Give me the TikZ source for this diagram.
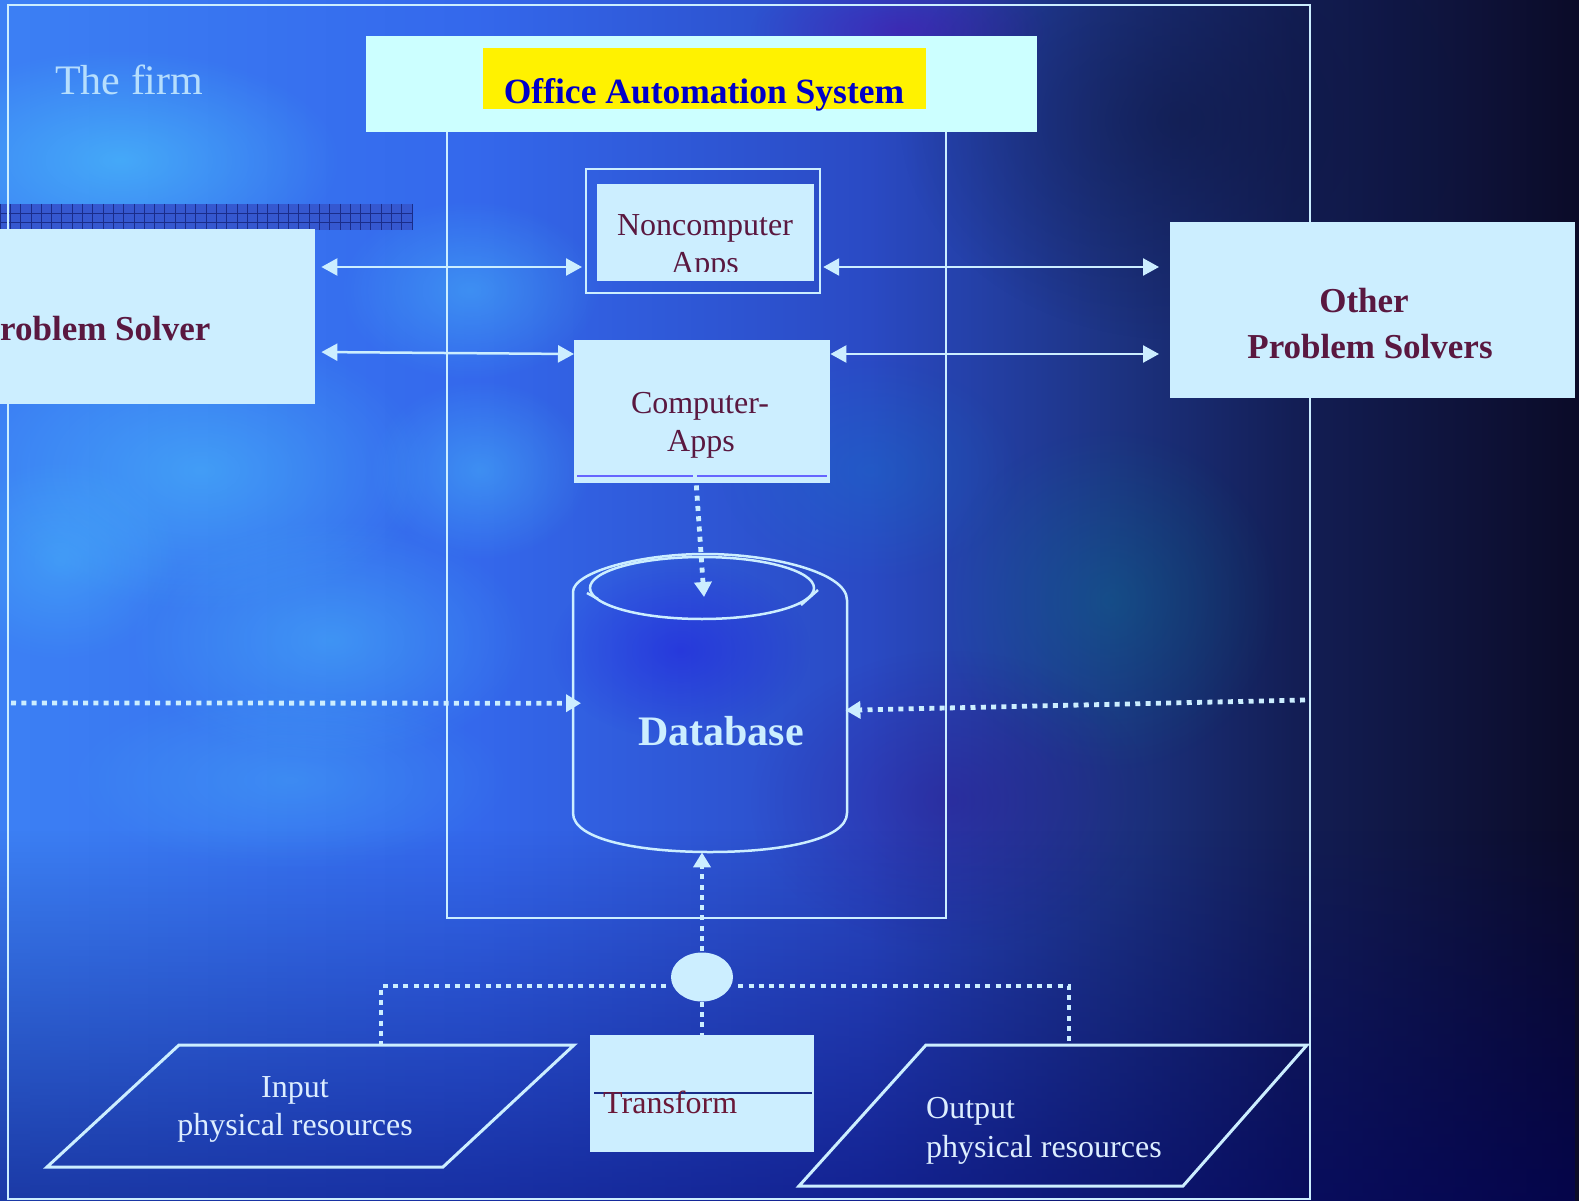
\documentclass[tikz,border=0pt]{standalone}
\usepackage{fontspec}
\setmainfont{Liberation Serif}
\usetikzlibrary{arrows.meta,fadings,calc,shapes.geometric}

\definecolor{lboxc}{HTML}{CCEEFF}
\definecolor{oasfill}{HTML}{CCFFFF}
\definecolor{maroonc}{HTML}{5A1840}
\definecolor{transc}{HTML}{6A1838}
\definecolor{oasblue}{HTML}{0000C8}
\definecolor{lineclr}{HTML}{CCEEFF}
\definecolor{whitetxt}{HTML}{DDEEFF}
\definecolor{c0}{HTML}{3C80F4}
\definecolor{c1}{HTML}{3468EC}
\definecolor{c2}{HTML}{2A4AC4}
\definecolor{c3}{HTML}{1D3484}
\definecolor{c4}{HTML}{131E55}
\definecolor{c5}{HTML}{0B0B28}
\definecolor{checkfill}{HTML}{3558D0}
\definecolor{checkline}{HTML}{1A2D8A}
\definecolor{cyanblob}{HTML}{50D8FF}
\definecolor{navyblob}{HTML}{0E1640}

\pgfdeclarehorizontalshading{bgshade}{100bp}{color(0bp)=(c0); color(25bp)=(c0); color(40bp)=(c1); color(52.5bp)=(c2); color(60bp)=(c3); color(66bp)=(c4); color(75bp)=(c5); color(100bp)=(c5)}
\tikzfading[name=blobfade, inner color=transparent!0, outer color=transparent!100]
\tikzfading[name=fadedown, top color=transparent!100, bottom color=transparent!0]

\newcommand\bgblob[6]{\fill[color=#5, opacity=#6, path fading=blobfade] (#1,#2) ellipse ({#3} and {#4});}

\tikzset{
  lightbox/.style={fill=lboxc, draw=none, inner sep=0pt, anchor=north west},
  conn/.style={draw=lineclr, line width=2.5pt},
  biarrow/.style={conn, {Triangle[length=16pt,width=17pt]}-{Triangle[length=16pt,width=17pt]}},
  dotline/.style={draw=lineclr, line width=4.8pt, dash pattern=on 5pt off 5.3pt},
  dotarrow/.style={dotline, -{Triangle[length=15pt,width=17pt]}},
  regtxt/.style={font=\fontsize{32}{37}\selectfont, inner sep=0pt},
  boldtxt/.style={font=\fontsize{35}{40}\selectfont\bfseries, inner sep=0pt},
}

\begin{document}
\begin{tikzpicture}[x=1pt,y=-1pt]
\useasboundingbox (0,0) rectangle (1579,1201);
\clip (0,0) rectangle (1579,1201);

% background
\shade[shading=bgshade] (0,0) rectangle (1579,1201);
\bgblob{120}{160}{220}{110}{cyanblob}{0.50}
\bgblob{200}{470}{230}{140}{cyanblob}{0.40}
\bgblob{330}{640}{200}{120}{cyanblob}{0.35}
\bgblob{470}{290}{130}{90}{cyanblob}{0.35}
\bgblob{480}{470}{110}{90}{cyanblob}{0.35}
\bgblob{60}{560}{120}{100}{cyanblob}{0.30}
\bgblob{290}{780}{220}{90}{cyanblob}{0.25}
\bgblob{870}{470}{150}{110}{cyan!60!blue}{0.30}
\bgblob{1110}{600}{170}{170}{teal!80!cyan}{0.25}
\bgblob{1180}{120}{280}{220}{navyblob}{0.55}
\bgblob{900}{30}{150}{60}{violet!70!blue}{0.40}
\bgblob{680}{650}{130}{90}{blue!80!violet}{0.35}
\bgblob{950}{800}{200}{150}{violet!60!blue!70!black}{0.30}
\fill[blue!40!black, opacity=0.55, path fading=fadedown] (0,830) rectangle (1579,1201);

% checkered bar
\fill[checkfill] (0,204) rectangle (413,230);
\foreach \i in {0,...,40}{\draw[checkline, line width=0.8pt] (\i*10.3,204) -- (\i*10.3,230);}
\draw[checkline, line width=0.8pt] (0,213) -- (413,213) (0,222) -- (413,222);

% frames
\draw[conn, line width=2.4pt] (8,5) rectangle (1310,1199);
\draw[conn, line width=2.4pt] (447,120) rectangle (946,918);

% boxes
\node[lightbox, minimum width=318pt, minimum height=175pt] (ps) at (-3,229) {};
\node[lightbox, fill=oasfill, minimum width=671pt, minimum height=96pt] (oas) at (366,36) {};
\node[lightbox, fill=yellow, minimum width=443pt, minimum height=61pt] (oasy) at (483,48) {};
\node[draw=lineclr, line width=2.2pt, inner sep=0pt, minimum width=234pt, minimum height=124pt, anchor=north west] (ncout) at (585,168) {};
\node[lightbox, minimum width=217pt, minimum height=97pt] (nc) at (597,184) {};
\node[lightbox, minimum width=256pt, minimum height=143pt] (ca) at (574,340) {};
\node[lightbox, minimum width=405pt, minimum height=176pt] (ops) at (1170,222) {};
\node[lightbox, minimum width=224pt, minimum height=117pt] (tr) at (590,1035) {};
\node[ellipse, fill=lboxc, inner sep=0pt, minimum width=62pt, minimum height=49pt] (hub) at (702,977) {};
\node[inner sep=0pt, minimum width=274pt, minimum height=298pt, anchor=north west] (db) at (573,554) {};

\draw[blue!60!white, line width=1.5pt] (577,476) -- (693,476) (697,476) -- (827,476);
\draw[checkline, line width=2pt] (594,1093) -- (812,1093);

% cylinder
\draw[conn] (573,813) -- (573,592) .. controls (573,572) and (640,554) .. (705,554)
  .. controls (770,554) and (847,572) .. (847,600) -- (847,813)
  .. controls (847,840) and (780,852) .. (710,852) .. controls (640,852) and (573,840) .. (573,813);
\draw[conn] (702,588) ellipse (112 and 31);
\draw[conn] (587,593) -- (598,599);
\draw[conn] (818,590) -- (801,605);

% parallelograms
\coordinate (inTop) at (381,1045);
\coordinate (outTop) at (1069,1045);
\draw[conn, line width=3pt] (179,1045) -- (574,1045) -- (443,1167) -- (47,1167) -- cycle;
\draw[conn, line width=3pt] (926,1045) -- (1307,1045) -- (1183,1186) -- (799,1186) -- cycle;

% solid bi-arrows
\draw[biarrow, shorten <=6pt, shorten >=3pt] (ps.east |- 0,267) -- (ncout.west |- 0,267);
\draw[biarrow, shorten <=2pt, shorten >=11pt] (ncout.east |- 0,267) -- (ops.west |- 0,267);
\draw[biarrow, shorten <=6pt, shorten >=0pt] (ps.east |- 0,352) -- (ca.west |- 0,354);
\draw[biarrow, shorten <=0pt, shorten >=11pt] (ca.east |- 0,354) -- (ops.west |- 0,354);

% dotted arrows
\coordinate (dbtop) at (704,597);
\coordinate (lfree) at (11,703);
\coordinate (rfree) at (1305,700);
\draw[dotarrow, shorten <=2pt] ([xshift=-6pt]ca.south) -- (dbtop);
\draw[dotarrow, shorten >=-8pt] (lfree) -- (db.west);
\draw[dotarrow, shorten >=-2pt] (rfree) -- ([yshift=-7pt]db.east);
\draw[dotarrow, shorten <=1pt] (hub.north) -- (hub.north |- db.south);
\draw[dotline] (hub.south) -- (tr.north -| hub.south);
\draw[dotline, shorten <=5pt] ([yshift=-9pt]hub.west) -| (inTop);
\draw[dotline, shorten <=5pt] ([yshift=-9pt]hub.east) -| (outTop);

% texts
\node[font=\fontsize{42}{48}\selectfont, text=lboxc, opacity=0.85, inner sep=0pt, anchor=base west] (firm) at (55,95) {The firm};
\node[font=\fontsize{35.5}{40}\selectfont\bfseries, text=oasblue, inner sep=0pt, anchor=base] (oast) at (704,104) {Office Automation System};
\node[regtxt, text=maroonc, anchor=base] (nct1) at (705,236) {Noncomputer};
\begin{scope}
\clip (597,184) rectangle (814,271);
\node[regtxt, text=maroonc, anchor=base] (nct2) at (705,273) {Apps};
\end{scope}
\node[regtxt, text=maroonc, anchor=base] (cat1) at (700,413) {Computer-};
\node[regtxt, text=maroonc, anchor=base] (cat2) at (701,451) {Apps};
\node[boldtxt, text=maroonc, anchor=base west] (pst) at (0,340) {roblem Solver};
\node[boldtxt, text=maroonc, anchor=base] (opst1) at (1364,312) {Other};
\node[boldtxt, text=maroonc, anchor=base] (opst2) at (1370,358) {Problem Solvers};
\node[font=\fontsize{42}{48}\selectfont\bfseries, text=lboxc, inner sep=0pt, anchor=base] (dbt) at (721,745) {Database};
\node[regtxt, text=whitetxt, anchor=base] (int1) at (295,1097) {Input};
\node[regtxt, text=whitetxt, anchor=base] (int2) at (295,1135) {physical resources};
\node[regtxt, text=whitetxt, anchor=base west] (outt1) at (926,1118) {Output};
\node[regtxt, text=whitetxt, anchor=base west] (outt2) at (926,1157) {physical resources};
\node[regtxt, text=transc, anchor=base west] (trt) at (603,1113) {Transform};
\end{tikzpicture}
\end{document}
